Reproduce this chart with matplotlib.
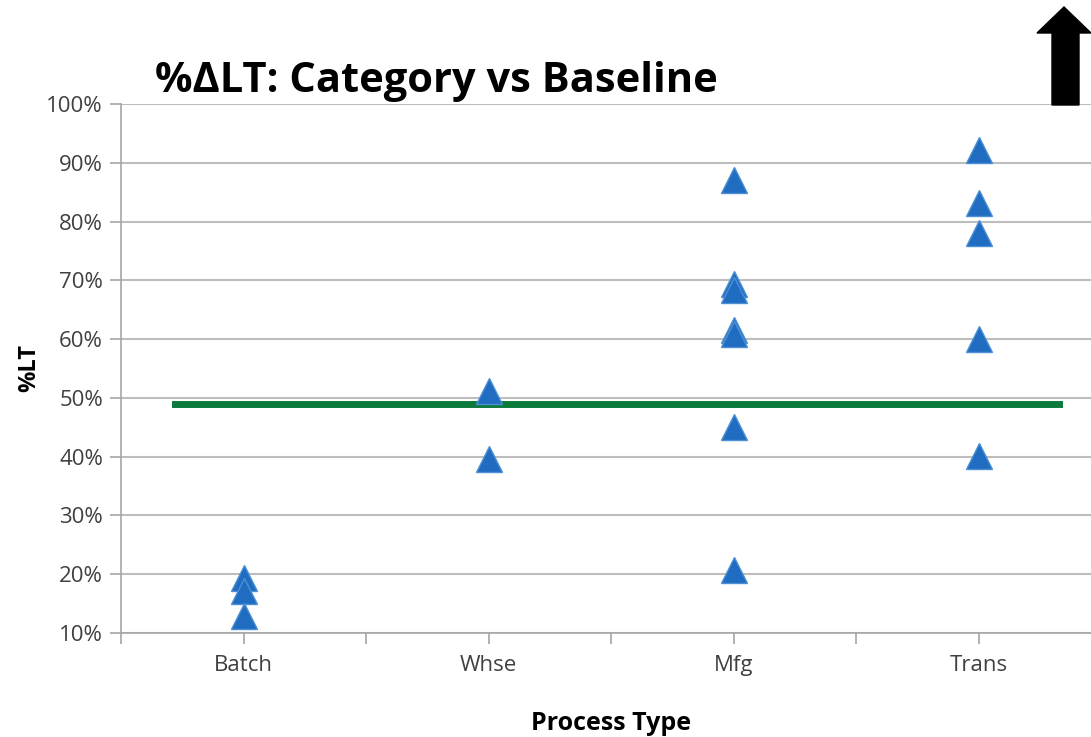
import matplotlib
matplotlib.use("Agg")
import matplotlib.pyplot as plt
from matplotlib.ticker import PercentFormatter, FixedLocator
from matplotlib.patches import Polygon

plt.rcParams['font.family'] = ['Open Sans', 'DejaVu Sans']

# data (% of lead time)
categories = ['Batch', 'Whse', 'Mfg', 'Trans']
batch = [19.3, 17.2, 12.9]
whse = [51.1, 39.6]
mfg = [87.1, 69.3, 68.4, 61.5, 60.8, 45.0, 20.7]
trans = [92.2, 83.2, 78.1, 60.0, 40.1]
baseline = 49.0
y_ticks = [10, 20, 30, 40, 50, 60, 70, 80, 90, 100]

series = [batch, whse, mfg, trans]

fig = plt.figure(figsize=(10.91, 7.37), dpi=100)
# axes runs off the right edge like in the source screenshot
ax = fig.add_axes([121 / 1091, 104 / 737, 980 / 1091, 529 / 737])

for i, vals in enumerate(series):
    ax.plot([i] * len(vals), vals, linestyle='none', marker='^', markersize=19,
            markerfacecolor='#1f6cc0', markeredgecolor='#4d8fd4', markeredgewidth=1.0,
            zorder=4)

# baseline
ax.axhline(baseline, xmin=54 / 980, xmax=938 / 980, color='#0b7a3b', linewidth=5, zorder=3)

ax.set_xlim(-0.5, len(categories) - 0.5)
ax.set_ylim(y_ticks[0], y_ticks[-1])
ax.set_yticks(y_ticks)
ax.yaxis.set_major_formatter(PercentFormatter(decimals=0))
ax.set_xticks(range(len(categories)))
ax.set_xticklabels(categories)
ax.xaxis.set_minor_locator(FixedLocator([i - 0.5 for i in range(len(categories) + 1)]))

ax.grid(axis='y', color='#bdbdbd', linewidth=1.5, zorder=1)
ax.set_axisbelow(True)
for s in ['top', 'right']:
    ax.spines[s].set_visible(False)
for s in ['left', 'bottom']:
    ax.spines[s].set_color('#a6a6a6')
    ax.spines[s].set_linewidth(1.2)

ax.tick_params(axis='y', which='major', length=8, width=1.2, color='#a6a6a6',
               labelsize=16, labelcolor='#404040', pad=5)
ax.tick_params(axis='x', which='major', length=8, width=1.2, color='#a6a6a6',
               labelsize=16, labelcolor='#404040', pad=8)
ax.tick_params(axis='x', which='minor', length=8, width=1.2, color='#a6a6a6')

ax.set_xlabel('Process Type', fontsize=18, fontweight='bold', labelpad=25)
ax.set_ylabel('%LT', fontsize=17, fontweight='bold', labelpad=4)

fig.text(155 / 1091, 1 - 92 / 737, '%\u0394LT: Category vs Baseline', fontsize=30,
         fontweight='bold', ha='left', va='baseline')

# black up arrow top right
arrow = Polygon([[1052 / 1091, 1 - 105 / 737], [1079 / 1091, 1 - 105 / 737],
                 [1079 / 1091, 1 - 33 / 737], [1091 / 1091, 1 - 33 / 737],
                 [1064 / 1091, 1 - 7 / 737], [1037 / 1091, 1 - 33 / 737],
                 [1052 / 1091, 1 - 33 / 737]], closed=True, transform=fig.transFigure,
                facecolor='black', edgecolor='black', zorder=10)
fig.patches.append(arrow)

fig.savefig('out.png', dpi=100)
